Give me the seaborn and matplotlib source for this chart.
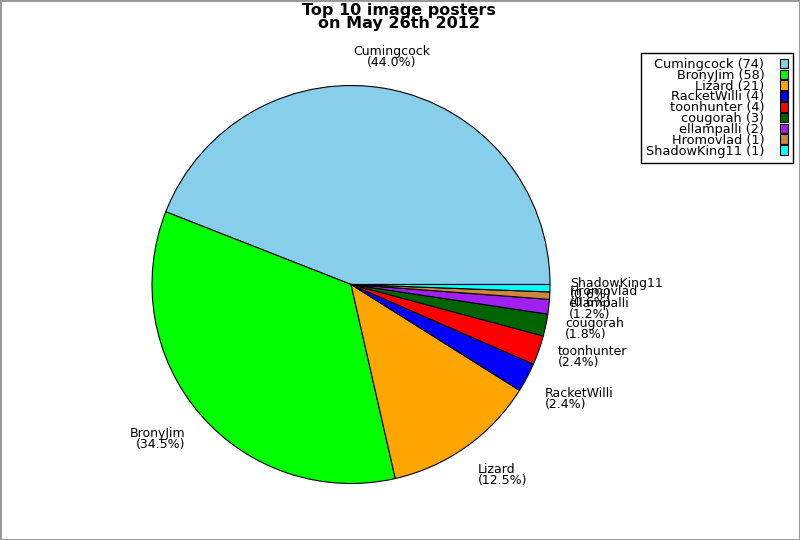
import numpy as np
import seaborn as sns
import matplotlib
matplotlib.use("Agg")
import matplotlib.pyplot as plt

# data
names = ['Cumingcock', 'BronyJim', 'Lizard', 'RacketWilli', 'toonhunter',
         'cougorah', 'ellampalli', 'Hromovlad', 'ShadowKing11']
counts = [74, 58, 21, 4, 4, 3, 2, 1, 1]
colours = ['skyblue', 'lime', 'orange', 'blue', 'red',
           'darkgreen', '#a020f0', 'peru', 'cyan']
title = 'Top 10 image posters\non May 26th 2012'

sns.set_style('white')
plt.rcParams['font.family'] = ['DejaVu Sans']
plt.rcParams['text.color'] = 'black'

total = sum(counts)
pie_labels = [f'{n}\n({100 * c / total:.1f}%)' for n, c in zip(names, counts)]
legend_labels = [f'{n} ({c})' for n, c in zip(names, counts)]

fig = plt.figure(figsize=(8, 5.4), dpi=100, edgecolor='#999999', linewidth=2)
ax = fig.add_axes([0.1278, 0.0125, 0.6219, 0.9213])

wedges, texts = ax.pie(counts, labels=pie_labels, colors=sns.color_palette(colours),
                       startangle=0, counterclock=True, labeldistance=1.1,
                       wedgeprops=dict(edgecolor='black', linewidth=0.8),
                       textprops=dict(fontsize=9, linespacing=0.8, color='black'))
ax.set_xlim(-1.25, 1.25)
ax.set_ylim(-1.25, 1.25)
ax.set_aspect('equal')

# label alignment by compass octant of the label position
for t in texts:
    x, y = t.get_position()
    ang = np.degrees(np.arctan2(y, x)) % 360
    octant = int(((ang + 22.5) % 360) // 45)
    ha = ['left', 'left', 'center', 'right', 'right', 'right', 'center', 'left'][octant]
    va = ['center', 'bottom', 'bottom', 'bottom', 'center', 'top', 'top', 'top'][octant]
    t.set_ha(ha)
    t.set_va(va)

leg = fig.legend(wedges, legend_labels, loc='upper right',
                 bbox_to_anchor=(0.991, 0.902), bbox_transform=fig.transFigure,
                 borderaxespad=0, markerfirst=False, fancybox=False,
                 edgecolor='black', framealpha=1, fontsize=9.3,
                 labelspacing=-0.17, handlelength=0.6, handleheight=0.78,
                 handletextpad=1.2, borderpad=0.4)
leg.get_frame().set_linewidth(1)
for h in leg.legend_handles:
    h.set_edgecolor('black')
    h.set_linewidth(0.8)
for t in leg.get_texts():
    t.set_ha('right')
    t.set_color('black')

fig.suptitle(title, x=0.499, y=0.994, va='top', fontsize=11.5,
             fontweight='bold', linespacing=0.85, color='black')

fig.savefig('out.png', dpi=100, edgecolor=fig.get_edgecolor())
